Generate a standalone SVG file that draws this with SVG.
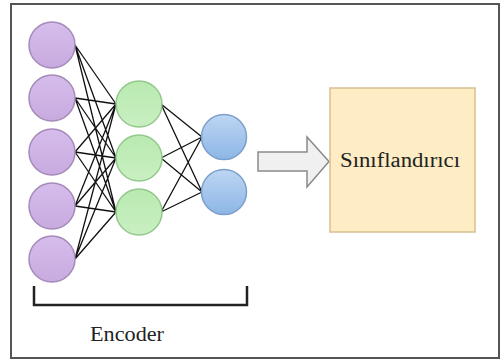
<svg xmlns="http://www.w3.org/2000/svg" width="501" height="362" viewBox="0 0 501 362">
<defs>
<linearGradient id="gp" x1="0" y1="0" x2="0" y2="1"><stop offset="0" stop-color="#d6bdec"/><stop offset="1" stop-color="#c8aadf"/></linearGradient>
<linearGradient id="gg" x1="0" y1="0" x2="0" y2="1"><stop offset="0" stop-color="#b9eab0"/><stop offset="1" stop-color="#c9efc2"/></linearGradient>
<linearGradient id="gb" x1="0" y1="0" x2="0" y2="1"><stop offset="0" stop-color="#bdd6f3"/><stop offset="1" stop-color="#8db6e6"/></linearGradient>
<style>
.p{fill:url(#gp);stroke:#a48bb9;stroke-width:1.5}
.g{fill:url(#gg);stroke:#93c98c;stroke-width:1.5}
.b{fill:url(#gb);stroke:#7c9fcc;stroke-width:1.5}
.e{stroke:#111;stroke-width:1.3;fill:none}
.t{font-family:"Liberation Serif","Times New Roman",serif;fill:#222}
</style>
</defs>
<rect x="11" y="4" width="488" height="354" fill="#fff" stroke="#555" stroke-width="2"/>
<g id="connectors">
<g class="e">
<path d="M75,45L116,104M75,45L116,158M75,45L116,212M75,98L116,104M75,98L116,158M75,98L116,212M75,152L116,104M75,152L116,158M75,152L116,212M75,206L116,104M75,206L116,158M75,206L116,212M75,259L116,104M75,259L116,158M75,259L116,212"/>
<path d="M161,104L202,137M161,104L202,192M161,158L202,137M161,158L202,192M161,212L202,137M161,212L202,192"/>
</g>
<path d="M258,152H307V137L329,161.5L307,187V171H258Z" fill="#f0f0f0" stroke="#8a8a8a" stroke-width="1.5"/>
</g>
<g id="in1"><circle class="p" cx="52" cy="45" r="23"/></g>
<g id="in2"><circle class="p" cx="52" cy="98" r="23"/></g>
<g id="in3"><circle class="p" cx="52" cy="152" r="23"/></g>
<g id="in4"><circle class="p" cx="52" cy="206" r="23"/></g>
<g id="in5"><circle class="p" cx="52" cy="259" r="23"/></g>
<g id="h1"><circle class="g" cx="139" cy="104" r="23"/></g>
<g id="h2"><circle class="g" cx="139" cy="158" r="23"/></g>
<g id="h3"><circle class="g" cx="139" cy="212" r="23"/></g>
<g id="o1"><circle class="b" cx="224" cy="137" r="22.5"/></g>
<g id="o2"><circle class="b" cx="224" cy="192" r="22.5"/></g>
<g id="encoder">
<path d="M34,286V305H247V286" fill="none" stroke="#222" stroke-width="2.5"/>
<text class="t" x="90" y="341" font-size="20" textLength="74" lengthAdjust="spacingAndGlyphs">Encoder</text>
</g>
<g id="classifier">
<rect x="330" y="88" width="145" height="144" fill="#fdecc4" stroke="#d8c08e" stroke-width="1.5"/>
<text class="t" x="340" y="167" font-size="20" textLength="120" lengthAdjust="spacingAndGlyphs">Sınıflandırıcı</text>
</g>
</svg>
